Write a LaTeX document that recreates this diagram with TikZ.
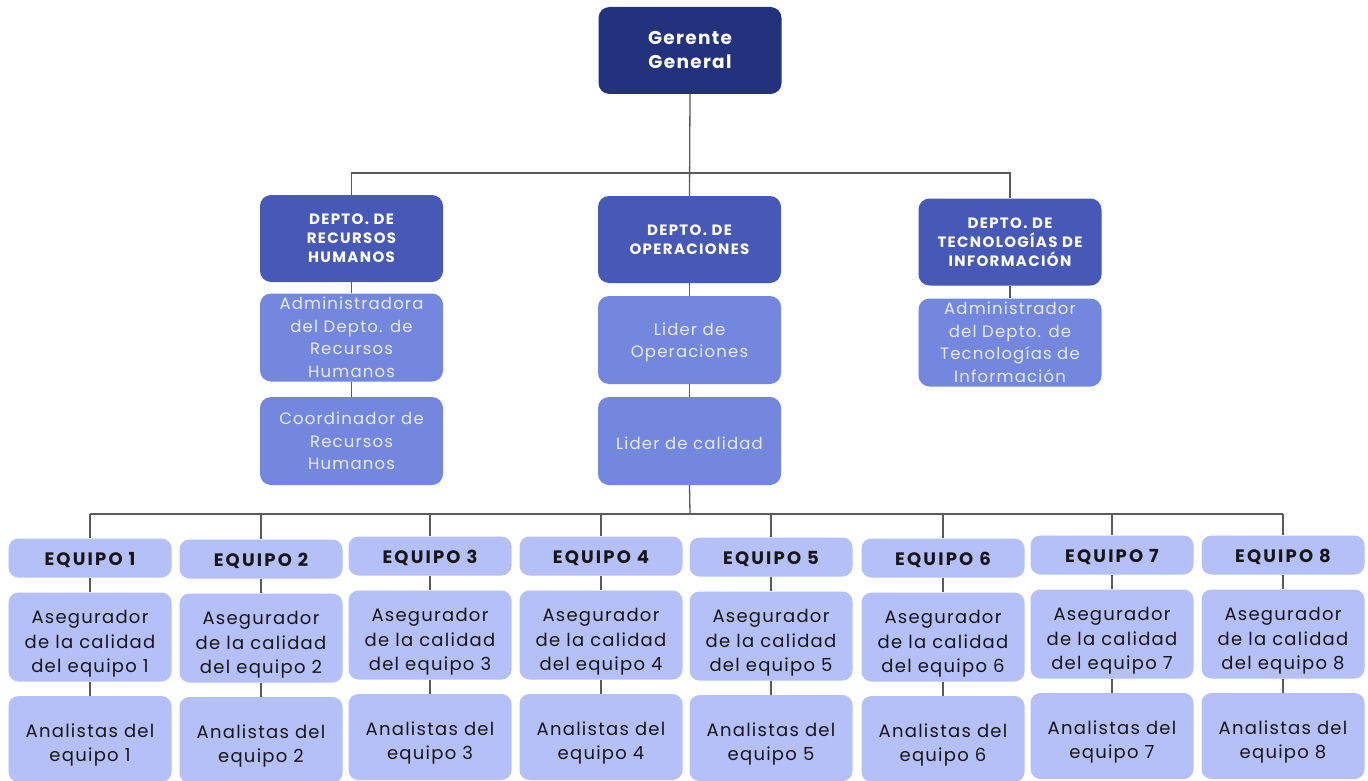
\documentclass[tikz,border=0pt]{standalone}
\usepackage{fontspec}
\setmainfont{Poppins}
\newfontfamily\bodyfont[LetterSpace=7]{Poppins}
\newfontfamily\headfont[LetterSpace=7]{Poppins}
\newfontfamily\deptfont[LetterSpace=9]{Poppins}
\newfontfamily\teamheadfont[LetterSpace=12]{Poppins}
\definecolor{navy}{HTML}{22327D}
\definecolor{deptblue}{HTML}{4659B6}
\definecolor{subblue}{HTML}{7387DF}
\definecolor{teamblue}{HTML}{B5BFF8}
\definecolor{subtext}{HTML}{E6EAFB}
\definecolor{teamtext}{HTML}{161616}
\definecolor{linegray}{HTML}{5A5A5A}
% invisible strut that sets the height of a node's first line
\newcommand\firstline[1]{\rule{0pt}{#1}}
\begin{document}
\begin{tikzpicture}[x=1pt,y=-1pt,
  box/.style={rectangle, rounded corners=11pt, inner sep=0pt, align=center,
    minimum width=183pt},
  topbox/.style={box, fill=navy, text=white, minimum height=87pt,
    font=\headfont\bfseries\fontsize{18.5}{24}\selectfont},
  deptbox/.style={box, fill=deptblue, text=white, minimum height=87pt,
    font=\deptfont\bfseries\fontsize{15}{19}\selectfont},
  subbox/.style={box, fill=subblue, text=subtext, minimum height=88pt,
    font=\bodyfont\fontsize{16.5}{22.5}\selectfont},
  teamhead/.style={box, rounded corners=10pt, fill=teamblue, text=teamtext,
    minimum width=163pt, minimum height=39pt,
    font=\teamheadfont\bfseries\fontsize{18}{20}\selectfont},
  teambox/.style={box, rounded corners=10pt, fill=teamblue, text=teamtext,
    minimum width=163pt, font=\bodyfont\fontsize{18}{24.5}\selectfont},
  link/.style={draw=linegray, line width=1.3pt}
]
\useasboundingbox (0,0) rectangle (1368,781);
\fill[white] (0,0) rectangle (1368,781);

% general manager and departments
\node[topbox] (gg) at (690,50.5) {Gerente\\General};
\node[deptbox] (rh) at (351.5,238.5) {DEPTO. DE\\RECURSOS\\HUMANOS};
\node[deptbox] (ops) at (689.5,239.5) {DEPTO. DE\\OPERACIONES};
\node[deptbox] (ti) at (1010,242) {DEPTO. DE\\TECNOLOGÍAS DE\\INFORMACIÓN};

% department staff
\node[subbox] (rh1) at (351.5,337.5) {Administradora\\del Depto. de\\Recursos\\Humanos};
\node[subbox] (rh2) at (351.5,441) {Coordinador de\\Recursos\\Humanos};
\node[subbox] (ops1) at (689.5,340) {\firstline{17pt}Lider de\\Operaciones};
\node[subbox] (ops2) at (689.5,441) {\firstline{16.5pt}Lider de calidad};
\node[subbox] (ti1) at (1010,342.5) {Administrador\\del Depto. de\\Tecnologías de\\Información};

% top-level connectors
\coordinate (bus) at (690,173);
\draw[link] (gg.south) -- (ops.north);
\draw[link] (rh.north) -- (rh.north |- bus) -- (ti.north |- bus) -- (ti.north);
\draw[link] (rh.south) -- (rh1.north);
\draw[link] (rh1.south) -- (rh2.north);
\draw[link] (ops.south) -- (ops1.north);
\draw[link] (ops1.south) -- (ops2.north);
\draw[link] (ti.south) -- (ti1.north);

% teams
\coordinate (teambus) at (690,514);
\foreach \i/\cx/\dy in {1/90/0, 2/261/1, 3/430/-2, 4/601/-2, 5/771/-1, 6/943/0, 7/1112/-3, 8/1283/-3} {
  \node[teamhead] (eq\i) at (\cx,558+\dy) {\firstline{18pt}EQUIPO \i};
  \node[teambox, minimum height=89pt] (as\i) at (\cx,637+\dy)
    {\firstline{27.5pt}Asegurador\\de la calidad\\del equipo \i};
  \node[teambox, minimum height=86pt] (an\i) at (\cx,739+\dy)
    {\firstline{25.5pt}Analistas del\\equipo \i};
  \draw[link] (eq\i.north |- teambus) -- (eq\i.north);
  \draw[link] (eq\i.south) -- (as\i.north);
  \draw[link] (as\i.south) -- (an\i.north);
}
\draw[link] (ops2.south) -- (teambus);
\draw[link] (eq1.north |- teambus) -- (eq8.north |- teambus);
\end{tikzpicture}
\end{document}
